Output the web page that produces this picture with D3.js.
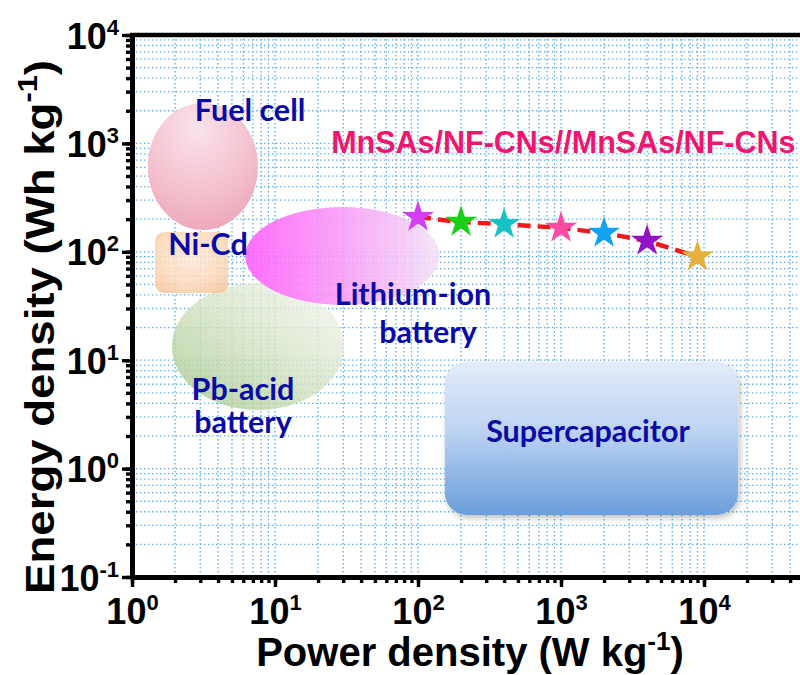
<!DOCTYPE html>
<html>
<head>
<meta charset="utf-8">
<script src="https://cdn.jsdelivr.net/npm/d3@7"></script>
<style>
  html, body { margin: 0; padding: 0; background: #fff; }
  svg { display: block; }
</style>
</head>
<body>
<svg id="chart" width="800" height="675"></svg>
<script>
// ---- data -------------------------------------------------------------
// Device measurements (power density W/kg, energy density Wh/kg)
const powerDensity  = [100, 200, 400, 1000, 2000, 4000, 9000];
const energyDensity = [209, 188, 180, 166, 149, 126, 90];
const starColors    = ["#d63cf2", "#18d018", "#18c2c4", "#fa4aa2", "#12a2f2", "#9412c4", "#e6b03a"];

// Ragone regions of reference technologies, in data units
const regionNames = ["Supercapacitor", "Fuel cell", "Pb-acid", "Ni-Cd", "Lithium-ion"];
const regionShape = ["rect", "ellipse", "ellipse", "rect", "ellipse"];
const regionXMin  = [154, 1.29, 1.9, 1.45, 6.2];
const regionXMax  = [17300, 7.6, 30.4, 4.7, 142];
const regionYMin  = [0.373, 159, 3.47, 41.7, 32.3];
const regionYMax  = [9.6, 2360, 51.5, 152, 259];

// Region captions: text with its anchor point in data units
const captionText = ["Fuel cell", "Ni-Cd", "Lithium-ion", "battery", "Pb-acid", "battery", "Supercapacitor"];
const captionX    = [6.69, 3.40, 92.3, 117.5, 5.97, 5.97, 1545];
const captionY    = [1611, 93.3, 32.3, 14.4, 4.29, 2.13, 1.76];

const seriesLabel = "MnSAs/NF-CNs//MnSAs/NF-CNs";
const seriesLabelX = 24.7, seriesLabelY = 815;

const xMajor = [1, 10, 100, 1000, 10000];
const yMajor = [0.1, 1, 10, 100, 1000, 10000];

// ---- scales -----------------------------------------------------------
const svg = d3.select("#chart");
const x = d3.scaleLog().domain([1, 1e5]).range([132, 847]);
const y = d3.scaleLog().domain([0.1, 1e4]).range([577, 35]);

const minorOf = (lo, hi) => {
  const out = [];
  for (let p = lo; p < hi; p++) for (let m = 1; m <= 9; m++) out.push(m * Math.pow(10, p));
  out.push(Math.pow(10, hi));
  return out;
};
const xMinor = minorOf(0, 5);
const yMinor = minorOf(-1, 4);

// ---- defs: gradients, clip ---------------------------------------------
const defs = svg.append("defs");
defs.append("clipPath").attr("id", "plotClip")
  .append("rect").attr("x", 132).attr("y", 35).attr("width", 715).attr("height", 542);

function linGrad(id, x1, y1, x2, y2, stops) {
  const g = defs.append("linearGradient").attr("id", id)
    .attr("x1", x1).attr("y1", y1).attr("x2", x2).attr("y2", y2);
  stops.forEach(([o, c]) => g.append("stop").attr("offset", o).attr("stop-color", c));
}
function radGrad(id, cx, cy, r, stops) {
  const g = defs.append("radialGradient").attr("id", id)
    .attr("cx", cx).attr("cy", cy).attr("r", r);
  stops.forEach(([o, c]) => g.append("stop").attr("offset", o).attr("stop-color", c));
}
linGrad("gSuper", 0, 0, 0, 1, [[0, "#e3ecfa"], [0.45, "#bcd3f1"], [1, "#6a9edb"]]);
radGrad("gFuel", 0.45, 0.2, 0.95, [[0, "#fae3e9"], [0.6, "#f2bccb"], [1, "#eb9db2"]]);
linGrad("gPb", 0.95, 0.1, 0.1, 0.95, [[0, "#f3f5ec"], [0.5, "#d3e2c2"], [1, "#a9c98e"]]);
radGrad("gNiCd", 0.5, 0.4, 0.75, [[0, "#fee9d8"], [0.6, "#fcd8b8"], [1, "#f7c093"]]);
linGrad("gLi", 0, 0, 1, 0, [[0, "#ff5cfb"], [0.45, "#fa94f6"], [1, "#f2e2f6"]]);
const regionFill = ["url(#gSuper)", "url(#gFuel)", "url(#gPb)", "url(#gNiCd)", "url(#gLi)"];
const regionOpacity = [1, 1, 0.8, 0.85, 0.88];

defs.append("filter").attr("id", "soft").attr("x", "-10%").attr("y", "-10%").attr("width", "130%").attr("height", "130%")
  .call(f => {
    f.append("feDropShadow").attr("dx", 2).attr("dy", 3).attr("stdDeviation", 3)
      .attr("flood-color", "#000").attr("flood-opacity", 0.25);
  });

// ---- grid -------------------------------------------------------------
const grid = svg.append("g").attr("clip-path", "url(#plotClip)")
  .attr("stroke", "#62ade2").attr("stroke-width", 1.3).attr("stroke-dasharray", "1.4 2.6");
grid.selectAll("line.v").data(xMinor).join("line").attr("class", "v")
  .attr("x1", d => x(d)).attr("x2", d => x(d)).attr("y1", 35).attr("y2", 577);
grid.selectAll("line.h").data(yMinor).join("line").attr("class", "h")
  .attr("y1", d => y(d)).attr("y2", d => y(d)).attr("x1", 132).attr("x2", 847);

// ---- regions ----------------------------------------------------------
const plot = svg.append("g").attr("clip-path", "url(#plotClip)");
regionNames.forEach((name, i) => {
  const x0 = x(regionXMin[i]), x1 = x(regionXMax[i]);
  const y0 = y(regionYMax[i]), y1 = y(regionYMin[i]);
  if (regionShape[i] === "ellipse") {
    plot.append("ellipse")
      .attr("cx", (x0 + x1) / 2).attr("cy", (y0 + y1) / 2)
      .attr("rx", (x1 - x0) / 2).attr("ry", (y1 - y0) / 2)
      .attr("fill", regionFill[i]).attr("opacity", regionOpacity[i]);
  } else {
    plot.append("rect")
      .attr("x", x0).attr("y", y0).attr("width", x1 - x0).attr("height", y1 - y0)
      .attr("rx", name === "Supercapacitor" ? 22 : 9)
      .attr("fill", regionFill[i]).attr("opacity", regionOpacity[i])
      .attr("filter", name === "Supercapacitor" ? "url(#soft)" : null);
  }
});

// ---- region captions --------------------------------------------------
svg.append("g")
  .attr("font-family", "Lato, 'Open Sans', sans-serif").attr("font-weight", 700)
  .attr("font-size", 30.5).attr("fill", "#0a0aa8").attr("text-anchor", "middle")
  .selectAll("text").data(captionText).join("text")
  .attr("x", (d, i) => x(captionX[i])).attr("y", (d, i) => y(captionY[i]))
  .text(d => d);

// ---- series -----------------------------------------------------------
const pts = powerDensity.map((p, i) => [p, energyDensity[i]]);
plot.append("path").datum(pts)
  .attr("d", d3.line().x(d => x(d[0])).y(d => y(d[1])))
  .attr("fill", "none").attr("stroke", "#f01a1a").attr("stroke-width", 4.5)
  .attr("stroke-dasharray", "13 7");
plot.selectAll("path.star").data(pts).join("path").attr("class", "star")
  .attr("d", d3.symbol(d3.symbolStar, 320))
  .attr("transform", d => `translate(${x(d[0])},${y(d[1])})`)
  .attr("fill", (d, i) => starColors[i]);

svg.append("text")
  .attr("x", x(seriesLabelX)).attr("y", y(seriesLabelY))
  .attr("font-family", "'Liberation Sans', Arial, sans-serif").attr("font-weight", 700)
  .attr("font-size", 30.5).attr("fill", "#f0166f")
  .text(seriesLabel);

// ---- axes -------------------------------------------------------------
const axisFont = "'Liberation Sans', Arial, sans-serif";
function styleAxis(g) {
  g.select(".domain").attr("stroke", "#000").attr("stroke-width", 5);
  g.selectAll(".tick line").attr("stroke", "#000").attr("stroke-width", 3.4);
}
function superLabels(g) {
  g.selectAll(".tick text").each(function (d) {
    const t = d3.select(this).text(null)
      .attr("font-family", axisFont).attr("font-weight", 700).attr("font-size", 36).attr("fill", "#000");
    t.append("tspan").text("10");
    t.append("tspan").attr("font-size", 22).attr("dy", -14).text(Math.round(Math.log10(d)));
  });
}

// minor ticks
svg.append("g").attr("transform", "translate(0,577)")
  .call(d3.axisBottom(x).tickValues(xMinor).tickSize(6).tickSizeOuter(0).tickFormat(""))
  .call(styleAxis);
svg.append("g").attr("transform", "translate(132,0)")
  .call(d3.axisLeft(y).tickValues(yMinor).tickSize(6).tickSizeOuter(0).tickFormat(""))
  .call(styleAxis);

// major ticks with labels
svg.append("g").attr("transform", "translate(0,577)")
  .call(d3.axisBottom(x).tickValues(xMajor).tickSize(10).tickSizeOuter(0))
  .call(styleAxis).call(superLabels)
  .call(g => g.selectAll(".tick text").attr("dy", 0).attr("y", 47));
svg.append("g").attr("transform", "translate(132,0)")
  .call(d3.axisLeft(y).tickValues(yMajor).tickSize(10).tickSizeOuter(0))
  .call(styleAxis).call(superLabels)
  .call(g => g.selectAll(".tick text").attr("dy", 13).attr("x", -13));

// top frame line
svg.append("line").attr("x1", 130).attr("x2", 847).attr("y1", 35).attr("y2", 35)
  .attr("stroke", "#000").attr("stroke-width", 4.5);

// ---- axis titles ------------------------------------------------------
const xt = svg.append("text").attr("x", 470).attr("y", 666).attr("text-anchor", "middle")
  .attr("font-family", axisFont).attr("font-weight", 700).attr("font-size", 40);
xt.append("tspan").text("Power density (W kg");
xt.append("tspan").attr("font-size", 26).attr("dy", -16).text("-1");
xt.append("tspan").attr("dy", 16).text(")");

const yt = svg.append("text").attr("transform", "translate(54,327) rotate(-90) scale(1.14,1)").attr("text-anchor", "middle")
  .attr("font-family", axisFont).attr("font-weight", 700).attr("font-size", 40);
yt.append("tspan").text("Energy density (Wh kg");
yt.append("tspan").attr("font-size", 27).attr("dy", -17).text("-1");
yt.append("tspan").attr("dy", 17).text(")");
</script>
</body>
</html>
